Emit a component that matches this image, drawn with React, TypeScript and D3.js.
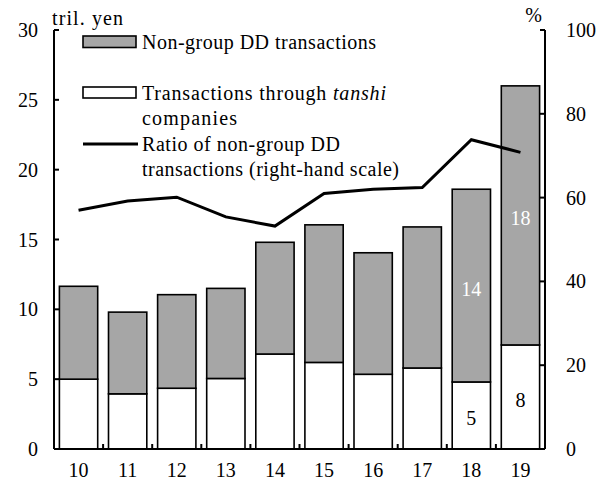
import * as d3 from "d3";

const years = ["10", "11", "12", "13", "14", "15", "16", "17", "18", "19"];
const tanshi = [5.0, 3.95, 4.35, 5.05, 6.8, 6.2, 5.35, 5.8, 4.8, 7.45];
const nonGroup = [6.65, 5.85, 6.7, 6.45, 8.0, 9.85, 8.7, 10.1, 13.8, 18.55];
const ratio = [57.0, 59.2, 60.1, 55.4, 53.2, 61.0, 62.0, 62.4, 73.8, 70.8];
const leftTicks = [0, 5, 10, 15, 20, 25, 30];
const rightTicks = [0, 20, 40, 60, 80, 100];
// value labels printed inside bars: [year index, series, text]
const barLabels: [number, "tanshi" | "nonGroup", string][] = [
  [8, "nonGroup", "14"],
  [9, "nonGroup", "18"],
  [8, "tanshi", "5"],
  [9, "tanshi", "8"],
];

const W = 598;
const H = 483;
const left = 54;
const right = 545;
const top = 30;
const bottom = 449;
const font = '"Liberation Serif", "Times New Roman", "DejaVu Serif", serif';
const gray = "#a6a6a6";

export default function App() {
  const x = d3.scaleBand().domain(years).range([left, right]).paddingInner(0.22).paddingOuter(0.11);
  const band = d3.scaleBand().domain(years).range([left, right]);
  const yL = d3.scaleLinear().domain([0, 30]).range([bottom, top]);
  const yR = d3.scaleLinear().domain([0, 100]).range([bottom, top]);

  const line = d3
    .line<number>()
    .x((_, i) => (band(years[i]) as number) + band.bandwidth() / 2)
    .y((d) => yR(d));

  const fs = 20;

  return (
    <svg width={W} height={H} style={{ position: "absolute", left: 0, top: 0, background: "#fff", fontFamily: font }}>
      {/* bars */}
      {years.map((yr, i) => {
        const bx = x(yr) as number;
        const bw = x.bandwidth();
        const t = tanshi[i];
        const tot = t + nonGroup[i];
        return (
          <g key={yr}>
            <rect x={bx} y={yL(t)} width={bw} height={yL(0) - yL(t)} fill="#fff" stroke="#000" strokeWidth={1.6} />
            <rect x={bx} y={yL(tot)} width={bw} height={yL(t) - yL(tot)} fill={gray} stroke="#000" strokeWidth={1.6} />
          </g>
        );
      })}
      {barLabels.map(([i, s, txt]) => {
        const t = tanshi[i];
        const cx = (x(years[i]) as number) + x.bandwidth() / 2;
        const mid = s === "tanshi" ? t / 2 : t + nonGroup[i] / 2;
        return (
          <text key={i + s} x={cx} y={yL(mid) + 10} textAnchor="middle" fontSize={fs} fill={s === "tanshi" ? "#000" : "#fff"}>
            {txt}
          </text>
        );
      })}

      {/* ratio line */}
      <path d={line(ratio) as string} fill="none" stroke="#000" strokeWidth={3} strokeLinejoin="miter" />

      {/* left axis */}
      <line x1={left} x2={left} y1={top} y2={bottom} stroke="#000" strokeWidth={2} />
      {leftTicks.map((v) => (
        <g key={"l" + v}>
          <line x1={left} x2={left + 5} y1={yL(v)} y2={yL(v)} stroke="#000" strokeWidth={2} />
          <text x={38} y={yL(v) + 7} textAnchor="end" fontSize={fs}>
            {v}
          </text>
        </g>
      ))}
      {/* right axis */}
      <line x1={right} x2={right} y1={top} y2={bottom} stroke="#000" strokeWidth={2} />
      {rightTicks.map((v) => (
        <g key={"r" + v}>
          <line x1={right} x2={right - 5} y1={yR(v)} y2={yR(v)} stroke="#000" strokeWidth={2} />
          <text x={566} y={yR(v) + 7} textAnchor="start" fontSize={fs}>
            {v}
          </text>
        </g>
      ))}
      {/* x axis */}
      <line x1={left} x2={right} y1={bottom} y2={bottom} stroke="#000" strokeWidth={2} />
      {years.map((yr, i) => (
        <g key={"x" + yr}>
          {i > 0 && (
            <line x1={band(yr) as number} x2={band(yr) as number} y1={bottom} y2={bottom - 5} stroke="#000" strokeWidth={2} />
          )}
          <text x={(band(yr) as number) + band.bandwidth() / 2} y={477} textAnchor="middle" fontSize={fs}>
            {yr}
          </text>
        </g>
      ))}

      {/* units */}
      <text x={52} y={25} fontSize={fs} textLength={71} lengthAdjust="spacing">tril. yen</text>
      <text x={542} y={22} textAnchor="end" fontSize={fs}>%</text>

      {/* legend */}
      <rect x={83} y={36} width={53} height={11.5} fill={gray} stroke="#000" strokeWidth={1.6} />
      <text x={142} y={49} fontSize={fs} textLength={234} lengthAdjust="spacing">Non-group DD transactions</text>
      <rect x={83} y={87} width={53} height={11} fill="#fff" stroke="#000" strokeWidth={1.6} />
      <text x={142} y={100} fontSize={fs} textLength={244} lengthAdjust="spacing">
        Transactions through <tspan fontStyle="italic">tanshi</tspan>
      </text>
      <text x={142} y={125} fontSize={fs} textLength={95} lengthAdjust="spacing">companies</text>
      <line x1={83} x2={138} y1={144} y2={144} stroke="#000" strokeWidth={3} />
      <text x={142} y={151} fontSize={fs} textLength={198} lengthAdjust="spacing">Ratio of non-group DD</text>
      <text x={142} y={176} fontSize={fs} textLength={257} lengthAdjust="spacing">transactions (right-hand scale)</text>
    </svg>
  );
}
